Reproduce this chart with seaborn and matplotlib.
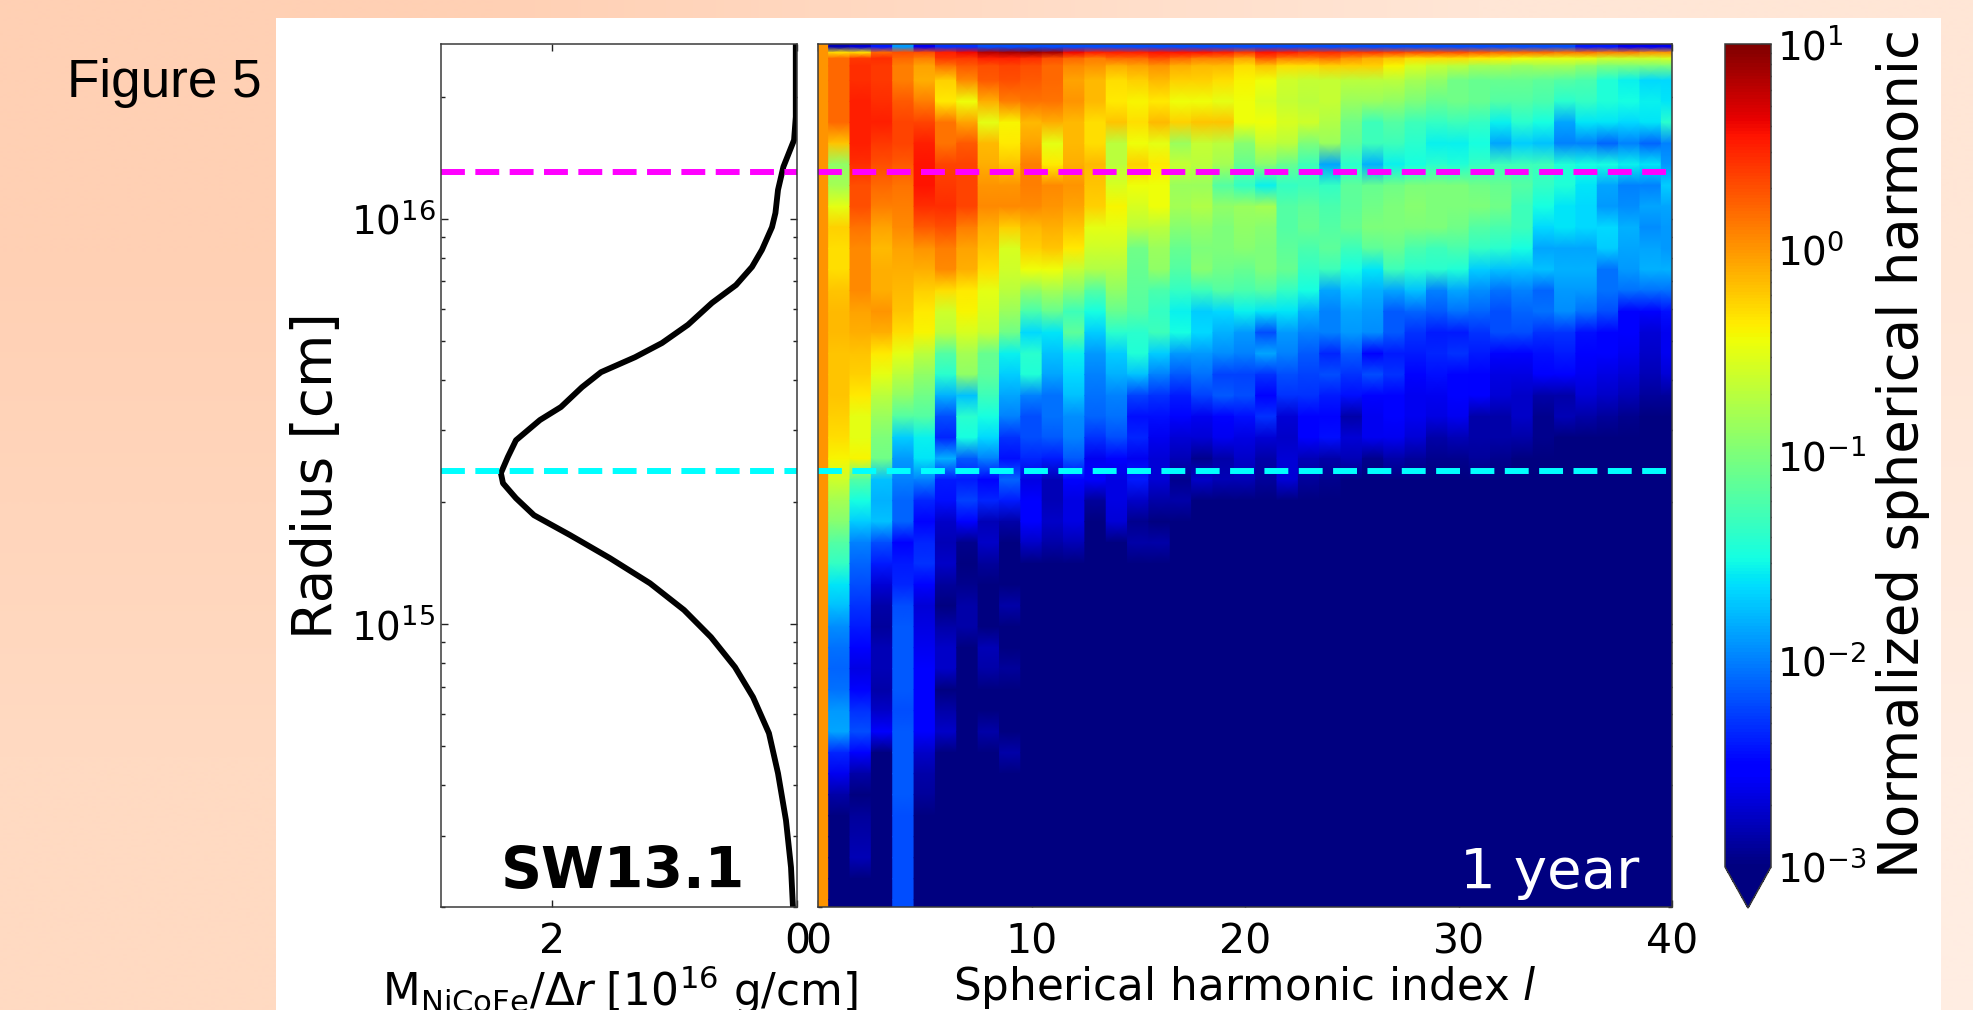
import numpy as np
import matplotlib
matplotlib.use('Agg')
import matplotlib.pyplot as plt
from matplotlib.cm import ScalarMappable
from matplotlib.colors import LogNorm, to_rgb
from matplotlib.patches import Rectangle
import seaborn as sns

W, H = 1973, 1010

# mass profile
profile_log_radius = [16.431, 16.251, 16.194, 16.128, 16.071, 16.014, 15.979, 15.923, 15.881, 15.836,
                      15.792, 15.738, 15.693, 15.658, 15.621, 15.584, 15.535, 15.503, 15.453, 15.412,
                      15.372, 15.347, 15.310, 15.268, 15.219, 15.162, 15.100, 15.034, 14.967, 14.893,
                      14.819, 14.730, 14.631, 14.515, 14.399, 14.301]
profile_mass = [0.01, 0.01, 0.024, 0.111, 0.155, 0.176, 0.204, 0.286, 0.367, 0.498,
                0.694, 0.89, 1.102, 1.322, 1.6, 1.755, 1.927, 2.098, 2.294, 2.36,
                2.417, 2.4, 2.294, 2.147, 1.853, 1.527, 1.2, 0.922, 0.702, 0.506,
                0.359, 0.229, 0.155, 0.09, 0.049, 0.033]

magenta_radius = 1.30e16
cyan_radius = 2.38e15

# log10 power per radial row (top to bottom), for l = 1, 2, ...; missing cells are below the scale
log_power_rows = [
    [-2.8, -2.7, -2.4, -1.9, -2.6, -2.3, -2.3] + [-2.2] * 28 + [-2.4, -2.4, -2.6, -2.6, -2.6],
    [-.3, -.3, .2, .3, .3, .5, .6, .8, .85, .9, .85, .6, .5, .5, .5, .55, .55, .55, .5, .4,
     .55, .5, .45, .45, .4, .4, .35, .3, .3, .3, .25, .2, .2, .2, .15, .15, .1, .1, 0, 0],
    [.2, .4, .45, .2, .1, .4, .4, .5, .5, .45, .3, .2, .1, .2, .2, .3, .2, .1, .1, -.05,
     .25, .1, .1, .15, 0, -.1, -.2, -.3, -.3, -.3, -.35, -.4, -.45, -.5, -.5, -.5, -.6, -.6, -.6, -.55],
    [.2, .45, .4, .1, -.05, .15, .25, .3, .35, .3, .2, .05, 0, -.1, -.05, 0, -.1, -.15, -.15, -.3,
     -.2, -.3, -.3, -.25, -.25, -.25, -.4, -.55, -.65, -.7, -.8, -.8, -.85, -.8, -.8, -.9, -1, -1, -1, -1],
    [.2, .45, .4, .1, -.1, -.25, .05, .25, .3, .25, .2, -.05, -.15, -.3, -.25, -.15, -.25, -.25, -.3, -.4,
     -.45, -.6, -.65, -.65, -.7, -.7, -.7, -.8, -.9, -1.05, -1.1, -1.1, -1.1, -1.15, -1.2, -1.25, -1.45, -1.55, -1.65, -1.65],
    [.2, .5, .45, .25, .1, -.35, -.45, -.1, .1, .15, .15, 0, -.15, -.35, -.4, -.35, -.45, -.45, -.5, -.45,
     -.55, -.65, -.7, -.65, -.85, -.85, -.9, -1, -1.1, -1.05, -1.1, -1.2, -1.2, -1.25, -1.4, -1.35, -1.45, -1.5, -1.55, -1.6],
    [.2, .5, .5, .35, .35, .15, -.05, -.5, -.4, -.15, -.1, -.15, -.3, -.2, -.3, -.15, -.25, -.2, -.2, -.45,
     -.45, -.55, -.6, -.75, -1.05, -1.3, -1.2, -1.3, -1.35, -1.3, -1.35, -1.55, -1.4, -1.5, -1.85, -1.6, -1.6, -1.65, -1.6, -1.4],
    [-.2, .5, .4, .35, .5, .15, .25, -.15, -.35, -.05, -.5, -.15, -.3, -.7, -.45, -.5, -.85, -.65, -.7, -.95,
     -.65, -.7, -1, -.85, -1.15, -1.3, -1.3, -1.4, -1.55, -1.55, -1.5, -1.85, -1.7, -1.75, -2, -2, -2.1, -2, -2.1, -2],
    [-.9, .45, .3, .25, .55, .35, .35, -.1, -.2, .1, -.35, -.1, -.15, -.7, -.25, -.35, -.65, -.7, -.8, -1.1,
     -.95, -1.1, -1.3, -1.85, -1.4, -1.8, -1.55, -1.5, -1.4, -1.45, -1.35, -1.3, -1.3, -1.3, -1.45, -1.5, -1.5, -1.55, -1.6, -1.9],
    [-.8, .3, .2, .15, .55, .4, .35, 0, 0, .1, .05, 0, -.2, -.55, -.45, -.45, -.85, -.85, -1.2, -1.35,
     -1.55, -1.35, -1.3, -1.35, -1.15, -1.1, -1.05, -1, -1, -1, -1.05, -1.1, -1.2, -1.35, -1.45, -1.6, -1.85, -2, -2, -1.7],
    [-.5, .3, .1, .1, .45, .45, .35, .05, .05, .05, 0, -.05, -.25, -.4, -.55, -.45, -.8, -.75, -.9, -.85,
     -.8, -1.2, -1.15, -1.25, -1.15, -1.05, -1, -.95, -1, -1, -1, -1.05, -1.3, -1.5, -1.6, -1.65, -1.9, -1.95, -1.85, -1.85],
    [-.25, .15, -.05, .05, .25, .3, .1, -.1, -.25, -.15, -.1, -.2, -.5, -.5, -.7, -.7, -.95, -.9, -1, -.9,
     -.95, -1.2, -1.1, -1.2, -1.1, -1, -1, -1, -1, -1.05, -1.2, -1.25, -1.3, -1.65, -1.6, -1.65, -1.65, -1.8, -1.95, -1.9],
    [-.3, .05, -.15, -.05, 0, .1, -.05, -.2, -.55, -.25, -.2, -.35, -.6, -.6, -1.05, -.85, -1.1, -1, -1, -.95,
     -1, -1.15, -1.25, -1.15, -1.3, -1.15, -1.1, -1.25, -1.3, -1.25, -1.35, -1.4, -1.5, -1.85, -1.85, -1.85, -1.7, -1.85, -1.85, -1.9],
    [-.3, .05, -.1, -.1, -.1, .05, -.1, -.3, -.6, -.45, -.45, -.65, -.75, -.75, -1.1, -.9, -1.2, -.95, -1.05, -1.1,
     -1, -1.1, -1.35, -1.3, -1.5, -1.6, -1.3, -1.4, -1.4, -1.45, -1.7, -1.75, -1.75, -1.75, -1.8, -1.8, -2.05, -1.9, -1.8, -1.8],
    [-.2, .05, -.1, -.15, -.25, -.3, -.35, -.5, -.7, -.9, -.8, -.95, -1.2, -.9, -1.15, -1.25, -1.35, -1.3, -1.2, -1.25,
     -1.2, -1.35, -1.5, -1.85, -1.7, -1.8, -1.85, -1.75, -2, -1.85, -1.95, -2.05, -2, -2.1, -1.9, -1.9, -2.05, -2.05, -2.05, -2.05],
    [-.15, -.05, 0, -.2, -.35, -.6, -.4, -.55, -.85, -1.25, -1.1, -1.3, -1.5, -1.1, -1.2, -1.35, -1.55, -1.7, -1.65, -1.55,
     -1.6, -1.6, -1.8, -2, -1.85, -1.9, -2.15, -2.1, -2.15, -2.05, -2.1, -2.2, -2.1, -2.05, -1.95, -2.05, -2.2, -2.55, -2.55, -2.45],
    [-.15, -.1, -.1, -.3, -.4, -.7, -.55, -.65, -1.05, -1.65, -1.6, -1.15, -1.7, -1.4, -1.4, -1.3, -1.5, -1.65, -1.8, -1.9,
     -2.2, -1.9, -2, -2, -1.9, -1.95, -2.15, -2.3, -2.4, -2.4, -2.3, -2.2, -2.2, -2.3, -2.3, -2.45, -2.5, -2.55, -2.7, -2.6],
    [-.2, -.2, -.35, -.5, -.7, -1.2, -.8, -1.1, -1.55, -1.4, -1.75, -1.55, -1.9, -1.7, -1.45, -1.7, -1.9, -1.9, -1.95, -2,
     -1.85, -2, -2.15, -2.35, -2.15, -2.5, -2.4, -2.4, -2.35, -2.3, -2.4, -2.5, -2.55, -2.45, -2.4, -2.55, -2.5, -2.6, -2.75, -2.6],
    [-.2, -.25, -.5, -.7, -.9, -1.4, -.9, -1.15, -1.7, -1.45, -1.85, -1.65, -2, -1.8, -1.75, -2, -2.15, -2.05, -2.25, -2.25,
     -2.3, -2.2, -2.25, -2.2, -2.3, -2.2, -2.3, -2.5, -2.45, -2.5, -2.55, -2.65, -2.65, -2.55, -2.55, -2.6, -2.65, -2.7, -2.8, -2.7],
    [-.2, -.35, -.7, -.9, -1.05, -1.8, -1.75, -1.3, -1.85, -2, -2.05, -1.75, -2.05, -2, -2.25, -2.3, -2.4, -2.25, -2.15, -2.2,
     -2.5, -2.3, -2.3, -2.4, -2.45, -2.5, -2.5, -2.6, -2.6, -2.5, -2.55, -2.7, -2.75, -2.85, -2.85, -2.7, -2.75, -2.8, -2.9, -2.9],
    [-.25, -.5, -.85, -1.2, -1.2, -2.2, -1.4, -1.5, -2, -2.2, -2.05, -1.95, -2.1, -2.05, -2.45, -2.45, -2.5, -2.6, -2.5, -2.45,
     -2.3, -2.7, -2.55, -2.5, -2.85, -2.6, -2.5, -2.6, -2.65, -2.6, -2.85, -2.85, -2.75, -2.95, -2.8, -2.85, -2.9, -2.95, -3, -3],
    [-.3, -.5, -1, -1.7, -1.55, -2.35, -1.5, -1.65, -2.3, -2.2, -2.15, -2, -2.3, -2.2, -2.35, -2.6, -2.7, -2.7, -2.6, -2.65,
     -2.7, -2.75, -2.55, -2.45, -2.7, -2.6, -2.6, -2.7, -2.85, -2.8, -2.85, -2.85, -2.85, -2.95],
    [-.4, -.4, -1.05, -1.9, -1.6, -1.8, -2.15, -2, -2.45, -2.35, -2.4, -2.15, -2.6, -2.5, -2.6, -2.7, -2.8, -2.95, -2.85, -2.75,
     -2.85, -2.7, -2.8, -2.85, -2.8, -2.95, -2.85, -2.9, -2.95, -2.95, -2.9, -2.95],
    [-.6, -1.2, -1.75, -2, -2, -2.4, -2.4, -2.5, -2.1, -2.65, -2.8, -2.5, -2.55, -2.65, -2.4, -2.7, -2.95, -2.75, -2.8, -2.8,
     -2.9, -2.7, -2.9, -2.95],
    [-.8, -1.5, -1.8, -2.1, -2.35, -2.45, -2.25, -2.35, -2.4, -2.55, -2.8, -2.65, -2.9, -2.65, -2.75, -2.85, -2.85],
    [-.95, -1.7, -1.75, -2.1, -2.5, -2.75, -2.55, -2.8, -2.85, -2.55, -2.75, -2.65, -3, -2.7, -2.95],
    [-1.2, -2, -2.2, -2.55, -2.35, -2.8, -2.95, -2.75, -3, -2.75, -2.85, -2.8, -3, -3, -2.85, -2.85],
    [-1.35, -2.1, -2.4, -2.4, -2.3, -2.75, -3, -2.9],
    [-1.6, -2.2, -2.7, -2.35, -2.5, -2.9, -2.95],
    [-1.75, -2.3, -2.85, -2.2, -2.7, -3, -2.85, -3, -2.85],
    [-1.95, -2.4, -2.9, -2.15, -2.65, -2.85, -2.85],
    [-2.05, -2.55, -2.8, -2.15, -2.6, -2.75, -3, -2.8],
    [-2.1, -2.65, -2.8, -2.15, -2.55, -2.75, -3, -2.85, -2.9],
    [-2.05, -2.5, -2.85, -2.15, -2.55, -3],
    [-1.9, -2.3, -2.75, -2.2, -2.55, -2.85],
    [-1.85, -2.2, -2.55, -2.15, -2.55, -2.75, -3, -2.85],
    [-2.35, -2.55, -3, -2.15, -2.75, -3, -3, -3, -2.85],
    [-2.6, -2.85, -3, -2.15, -2.85],
    [-2.85, -3, -3, -2.15, -2.9],
    [-3, -2.9, -3, -2.2],
    [-3, -2.85, -3, -2.2],
    [-3, -2.8, -3, -2.2],
    [-3, -3, -3, -2.2],
    [-3, -3, -3, -2.2],
]
log_radius_top_edges = [16.431, 16.416, 16.404, 16.387]
log_radius_start = 16.367
log_radius_step = 0.05185
log_power_l0 = 0.0
log_power_floor = -3.3

colorbar_label = 'Normalized spherical harmonic'


def box(left, top, right, bottom):
    # pixel box -> figure fraction rect
    return [left / W, 1 - bottom / H, (right - left) / W, (bottom - top) / H]


sns.set_theme(style='ticks')
plt.rcParams['font.family'] = ['DejaVu Sans']
plt.rcParams['mathtext.fontset'] = 'dejavusans'
plt.rcParams['mathtext.default'] = 'regular'

fig = plt.figure(figsize=(W / 100, H / 100), dpi=100)

# slide background: peach gradient with a white panel
bg = fig.add_axes([0, 0, 1, 1], zorder=-1)
corners = np.array([[to_rgb('#FFD0B4'), to_rgb('#FFE6D6')],
                    [to_rgb('#FFDAC2'), to_rgb('#FFEDE2')]])
bg.imshow(corners, extent=(0, W, H, 0), aspect='auto', interpolation='bilinear')
bg.add_patch(Rectangle((276, 18), 1941 - 276, H - 18, color='white', lw=0))
bg.set_xlim(0, W)
bg.set_ylim(H, 0)
bg.axis('off')
fig.text(67 / W, 1 - 97 / H, 'Figure 5', family='Liberation Sans', fontsize=38.2, color='black')

ax_prof = fig.add_axes(box(441, 44, 797, 907))
ax_heat = fig.add_axes(box(818, 44, 1672, 907))
cax = fig.add_axes(box(1725, 44, 1771, 908))

ylim = (10 ** 14.301, 10 ** 16.431)
spine_color = '#3a3a3a'

# left panel
ax_prof.set_yscale('log')
sns.lineplot(x=profile_mass, y=10.0 ** np.array(profile_log_radius), orient='y', sort=False, estimator=None,
             color='black', lw=4.2, ax=ax_prof)
ax_prof.set_xlim(2.906, 0)
ax_prof.set_ylim(*ylim)
ax_prof.set_xticks([2, 0])
ax_prof.set_ylabel('Radius [cm]', fontsize=39.4, color='black')
ax_prof.yaxis.set_label_coords((344 - 441) / 356, (907 - 476) / 863)
ax_prof.set_xlabel(r'M$_{\mathrm{NiCoFe}}$/$\Delta\mathit{r}$ [10$^{16}$ g/cm]', fontsize=31.5, color='black')
ax_prof.xaxis.set_label_coords((620 - 441) / 356, (907 - 963) / 863)
fig.text(623 / W, 1 - 888 / H, 'SW13.1', fontsize=41, fontweight='bold', color='black', ha='center', va='baseline')

# right panel: each l column is smooth along radius but keeps sharp sides
ax_heat.set_yscale('log')
rows = np.array([[log_power_l0] + r + [log_power_floor] * (40 - len(r)) for r in log_power_rows])
log_edges = np.array(log_radius_top_edges + [log_radius_start - log_radius_step * k for k in range(41)])
log_centers = (log_edges[:-1] + log_edges[1:]) / 2
node_radius = 10.0 ** np.r_[log_edges[0], log_centers, log_edges[-1]]
norm = LogNorm(1e-3, 10)
for l in range(41):
    col = 10.0 ** np.r_[rows[0, l], rows[:, l], rows[-1, l]]
    ax_heat.pcolormesh([l - 0.5, l + 0.5], node_radius, np.column_stack([col, col]),
                       cmap='jet', norm=norm, shading='gouraud', rasterized=True)
ax_heat.set_xlim(0, 40)
ax_heat.set_ylim(*ylim)
ax_heat.set_xticks([0, 10, 20, 30, 40])
ax_heat.set_xlabel('Spherical harmonic index $\\mathit{l}$', fontsize=31.4, color='black')
ax_heat.xaxis.set_label_coords(0.5, (907 - 964) / 863)
fig.text(1639 / W, 1 - 888 / H, '1 year', fontsize=40.5, color='white', ha='right', va='baseline')

for ax in (ax_prof, ax_heat):
    ax.axhline(magenta_radius, color='magenta', lw=4.3, ls=(0, (4, 1.75)), dash_capstyle='butt')
    ax.axhline(cyan_radius, color='cyan', lw=4.3, ls=(0, (4, 1.75)), dash_capstyle='butt')
    ax.tick_params(axis='both', which='major', direction='in', length=5, width=1, top=True, right=True,
                   color='#222222', labelcolor='black', labelsize=29.5)
    ax.tick_params(axis='both', which='minor', direction='in', length=3, width=1, top=False, right=True,
                   color='#222222')
    ax.tick_params(axis='x', pad=11)
    ax.tick_params(axis='y', pad=4)
    ax.minorticks_on()
    ax.xaxis.set_tick_params(which='minor', bottom=False, top=False)
    for s in ax.spines.values():
        s.set_visible(True)
        s.set_linewidth(1.1)
        s.set_color(spine_color)
ax_heat.tick_params(axis='y', which='both', labelleft=False)
ax_prof.tick_params(axis='y', which='major', labelsize=28)

# colour bar
sm = ScalarMappable(norm=norm, cmap='jet')
cbar = fig.colorbar(sm, cax=cax, extend='min', extendfrac=0.05)
cbar.ax.tick_params(which='major', direction='in', length=8, width=1, color='#222222', labelcolor='black',
                    labelsize=28, pad=4, right=True)
cbar.ax.tick_params(which='minor', direction='in', length=4, width=1, color='#222222', right=True)
cbar.outline.set_edgecolor(spine_color)
cbar.outline.set_linewidth(1.1)
cbar.ax.set_ylabel(colorbar_label, fontsize=39.4, color='black')
cbar.ax.yaxis.set_label_position('right')
cbar.ax.yaxis.set_label_coords((1876 - 1725) / 46, (867 - 454) / 823)

fig.savefig('out.png', dpi=100)
plt.close(fig)
